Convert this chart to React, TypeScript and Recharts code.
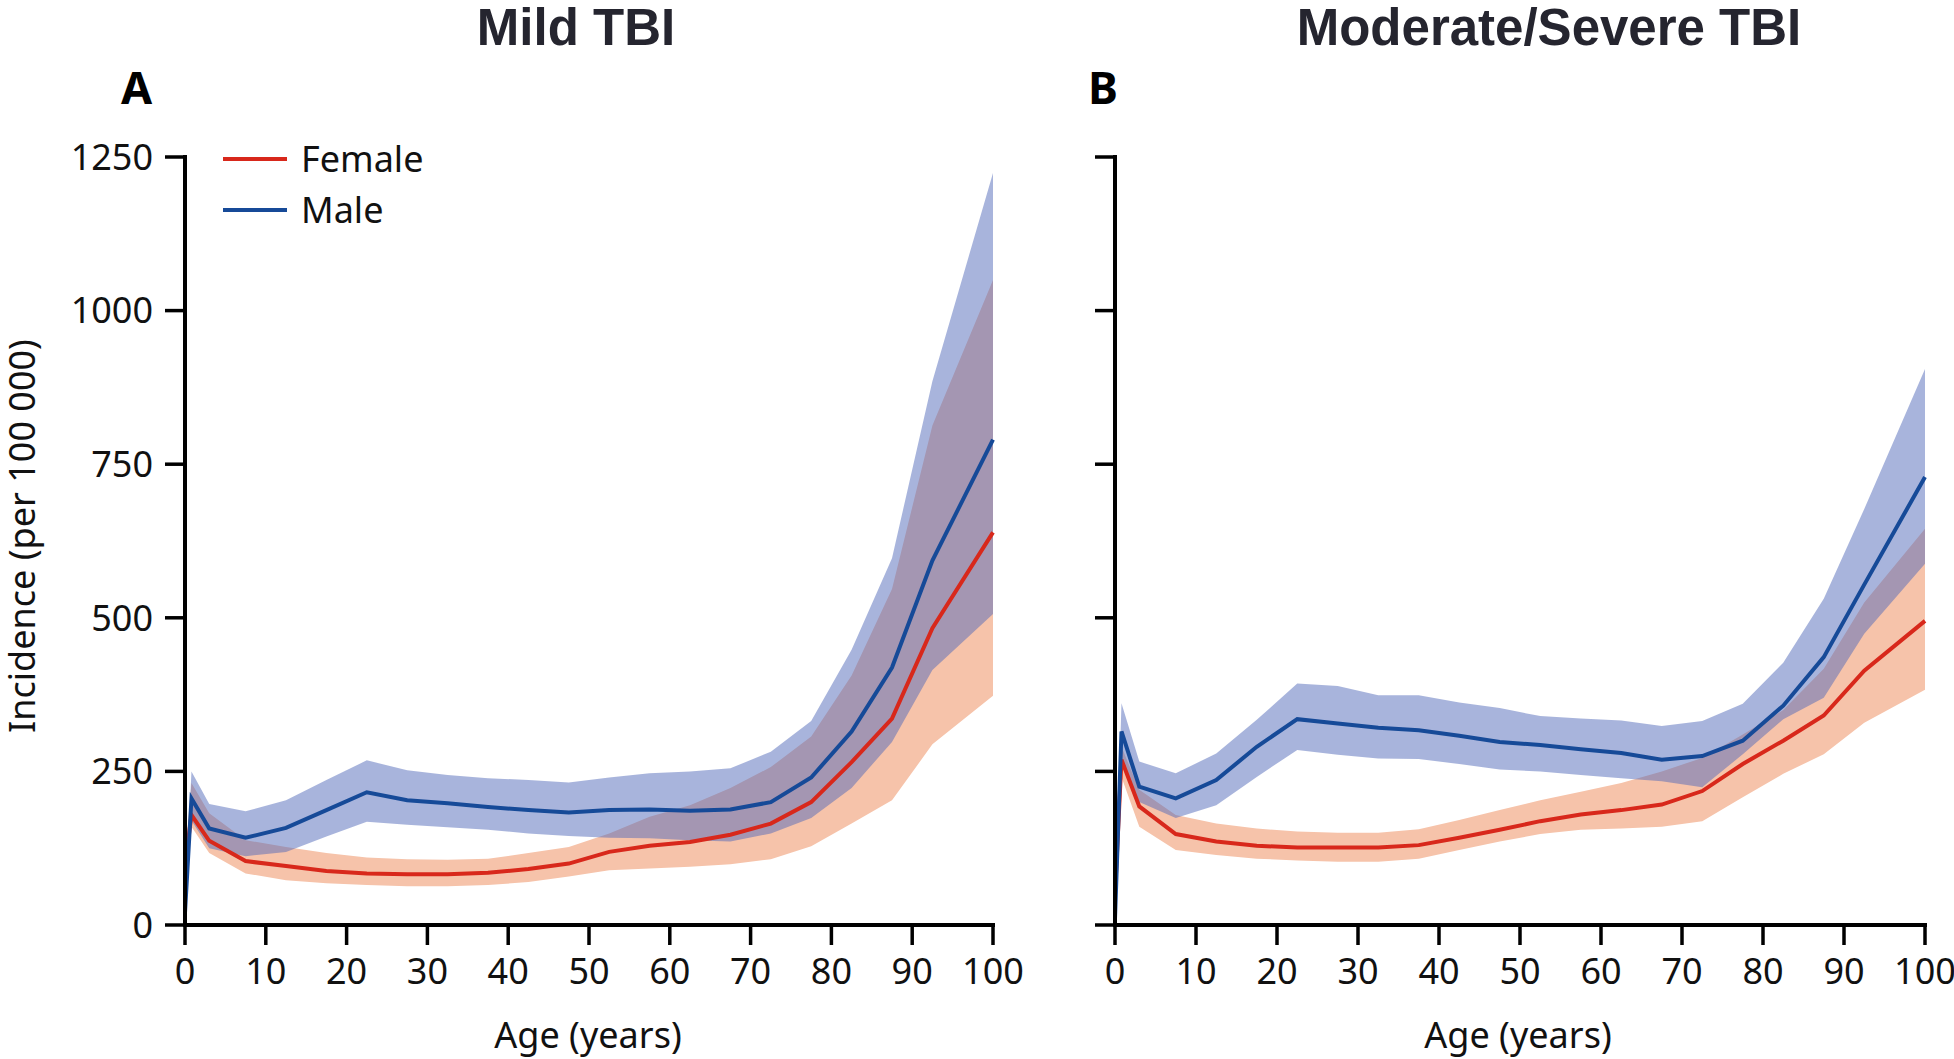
import React from 'react';
import { ComposedChart, Area, Line, XAxis, YAxis } from 'recharts';

// Age points (years) shared by every series
const ages = [0, 0.8, 3, 7.5, 12.5, 17.5, 22.5, 27.5, 32.5, 37.5, 42.5, 47.5, 52.5, 57.5, 62.5, 67.5, 72.5, 77.5, 82.5, 87.5, 92.5, 100];

// Mild TBI incidence per 100 000
const mildFemale = [98, 179, 137, 104, 96, 88, 84, 82.5, 82.5, 85, 91, 100, 119, 129, 135, 147, 165, 200, 265, 336, 483, 639];
const mildFemaleLow = [80, 160, 117, 84, 73, 68, 65, 63, 63, 65, 70, 79, 89, 92, 95, 99, 107, 128, 165, 203, 294, 373];
const mildFemaleHigh = [110, 231, 182, 138, 127, 117, 110, 107, 106, 108, 117, 127, 149, 176, 195, 223, 257, 307, 406, 547, 813, 1050];
const mildMale = [20, 206, 157, 142, 158, 187, 216, 203, 198, 192, 187, 183, 187, 188, 186, 188, 200, 240, 315, 419, 593, 790];
const mildMaleLow = [15, 170, 125, 112, 119, 144, 168, 163, 159, 155, 149, 145, 142, 141, 138, 136, 149, 174, 223, 298, 415, 506];
const mildMaleHigh = [30, 250, 197, 185, 203, 236, 268, 252, 244, 239, 236, 232, 240, 247, 250, 255, 282, 332, 448, 597, 885, 1224];

// Moderate/severe TBI incidence per 100 000
const severeFemale = [50, 269, 193, 148, 136, 129, 126, 126, 126, 130, 142, 155, 169, 180, 187, 196, 218, 262, 300, 341, 414, 495];
const severeFemaleLow = [40, 241, 160, 122, 114, 108, 105, 103, 103, 108, 122, 136, 148, 155, 157, 160, 169, 208, 246, 278, 329, 383];
const severeFemaleHigh = [60, 290, 220, 179, 165, 157, 152, 150, 150, 156, 171, 187, 203, 217, 231, 250, 272, 310, 350, 417, 525, 645];
const severeMale = [10, 315, 225, 206, 236, 290, 335, 328, 321, 317, 308, 298, 293, 286, 280, 269, 275, 300, 357, 436, 554, 729];
const severeMaleLow = [5, 265, 200, 174, 195, 241, 285, 277, 271, 270, 262, 253, 250, 244, 239, 234, 224, 278, 335, 370, 474, 588];
const severeMaleHigh = [15, 361, 266, 247, 279, 334, 393, 389, 374, 374, 362, 353, 340, 336, 333, 324, 332, 360, 427, 531, 677, 905];

const xTicks = [0, 10, 20, 30, 40, 50, 60, 70, 80, 90, 100];
const yTicks = [0, 250, 500, 750, 1000, 1250];

const RED = '#d8281b';
const BLUE = '#164a98';
const ORANGE_BAND = '#f6c3aa';
const BLUE_BAND = '#5169b9';

const FONT = "'Noto Sans', 'DejaVu Sans', sans-serif";
const TITLE_FONT = "'Liberation Sans', Arial, sans-serif";

type Row = {
  age: number;
  female: number;
  femaleBand: [number, number];
  male: number;
  maleBand: [number, number];
};

function buildRows(
  f: number[], fl: number[], fh: number[],
  m: number[], ml: number[], mh: number[]
): Row[] {
  return ages.map((age, i) => ({
    age,
    female: f[i],
    femaleBand: [fl[i], fh[i]],
    male: m[i],
    maleBand: [ml[i], mh[i]],
  }));
}

const mildRows = buildRows(mildFemale, mildFemaleLow, mildFemaleHigh, mildMale, mildMaleLow, mildMaleHigh);
const severeRows = buildRows(severeFemale, severeFemaleLow, severeFemaleHigh, severeMale, severeMaleLow, severeMaleHigh);

const axisStroke = { stroke: '#000', strokeWidth: 4, strokeLinecap: 'square' as const };
const tickStroke = { stroke: '#000', strokeWidth: 3.5 };
const tickText = { fontFamily: FONT, fontSize: 36, fill: '#111' };

function Panel(props: {
  rows: Row[];
  left: number;
  width: number;
  margin: { top: number; right: number; bottom: number; left: number };
  showYLabels: boolean;
}) {
  const { rows, left, width, margin, showYLabels } = props;
  return (
    <div style={{ position: 'absolute', left, top: 0, width, height: 1059 }}>
      <ComposedChart width={width} height={1059} data={rows} margin={margin}>
        <XAxis
          type="number"
          dataKey="age"
          domain={[0, 100]}
          ticks={xTicks}
          interval={0}
          height={60}
          tickSize={20}
          tickMargin={13}
          axisLine={axisStroke}
          tickLine={tickStroke}
          tick={tickText}
        />
        <YAxis
          type="number"
          domain={[0, 1250]}
          ticks={yTicks}
          interval={0}
          width={100}
          tickSize={20}
          tickMargin={12}
          axisLine={axisStroke}
          tickLine={tickStroke}
          tick={tickText}
          tickFormatter={(v: number) => (showYLabels ? String(v) : '')}
        />
        <Area
          type="linear"
          dataKey="femaleBand"
          fill={ORANGE_BAND}
          fillOpacity={1}
          stroke="none"
          strokeWidth={0}
          isAnimationActive={false}
        />
        <Area
          type="linear"
          dataKey="maleBand"
          fill={BLUE_BAND}
          fillOpacity={0.5}
          stroke="none"
          strokeWidth={0}
          isAnimationActive={false}
        />
        <Line
          type="linear"
          dataKey="female"
          stroke={RED}
          strokeWidth={4}
          dot={false}
          isAnimationActive={false}
        />
        <Line
          type="linear"
          dataKey="male"
          stroke={BLUE}
          strokeWidth={4}
          dot={false}
          isAnimationActive={false}
        />
      </ComposedChart>
    </div>
  );
}

export default function App() {
  return (
    <div
      style={{
        position: 'absolute',
        left: 0,
        top: 0,
        width: 1954,
        height: 1059,
        overflow: 'hidden',
        background: '#fff',
      }}
    >
      <Panel
        rows={mildRows}
        left={0}
        width={1060}
        margin={{ top: 157, right: 67, bottom: 74, left: 85 }}
        showYLabels={true}
      />
      <Panel
        rows={severeRows}
        left={1000}
        width={954}
        margin={{ top: 157, right: 29, bottom: 74, left: 15 }}
        showYLabels={false}
      />
      <svg
        width={1954}
        height={1059}
        style={{ position: 'absolute', left: 0, top: 0, pointerEvents: 'none' }}
      >
        <text x={576} y={45} textAnchor="middle" fontFamily={TITLE_FONT} fontWeight="bold" fontSize={51} fill="#25252f">
          Mild TBI
        </text>
        <text x={1549} y={45} textAnchor="middle" fontFamily={TITLE_FONT} fontWeight="bold" fontSize={51} fill="#25252f">
          Moderate/Severe TBI
        </text>
        <text x={121} y={104} fontFamily={FONT} fontWeight="bold" fontSize={45} fill="#000">
          A
        </text>
        <text x={1088} y={104} fontFamily={FONT} fontWeight="bold" fontSize={45} fill="#000">
          B
        </text>

        <line x1={223} y1={159} x2={287} y2={159} stroke={RED} strokeWidth={4} />
        <text x={301} y={172} fontFamily={FONT} fontSize={36} fill="#111">
          Female
        </text>
        <line x1={223} y1={210} x2={287} y2={210} stroke={BLUE} strokeWidth={4} />
        <text x={301} y={223} fontFamily={FONT} fontSize={36} fill="#111">
          Male
        </text>

        <text x={588} y={1048} textAnchor="middle" fontFamily={FONT} fontSize={36} fill="#111">
          Age (years)
        </text>
        <text x={1518} y={1048} textAnchor="middle" fontFamily={FONT} fontSize={36} fill="#111">
          Age (years)
        </text>
        <text
          x={35}
          y={536}
          textAnchor="middle"
          transform="rotate(-90 35 536)"
          fontFamily={FONT}
          fontSize={36}
          fill="#111"
        >
          Incidence (per 100 000)
        </text>
      </svg>
    </div>
  );
}
